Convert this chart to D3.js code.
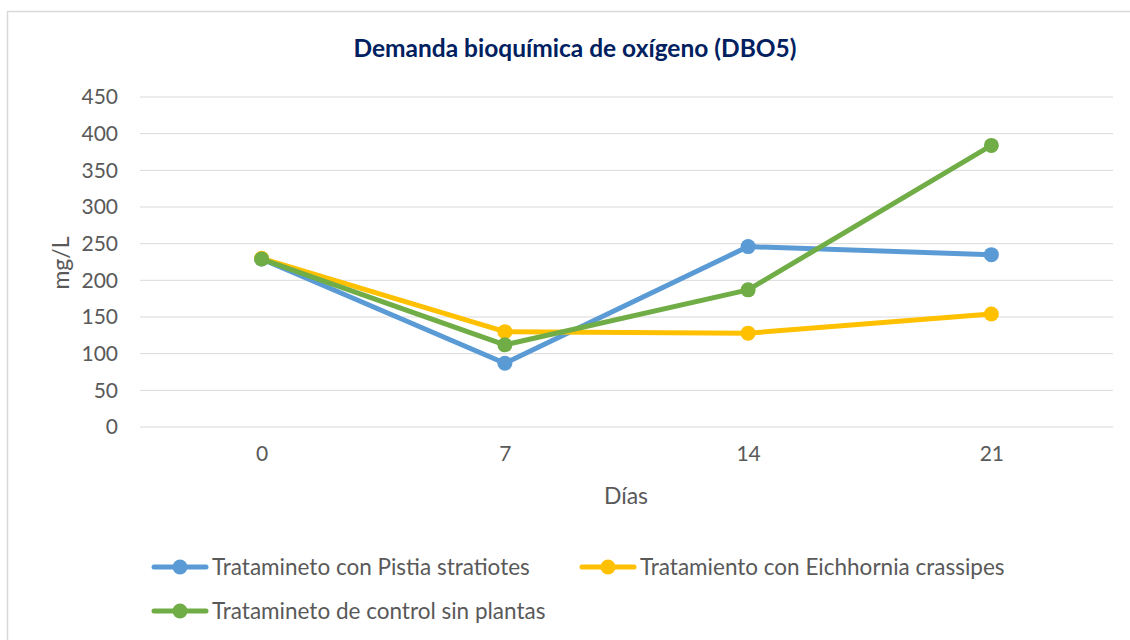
<!doctype html>
<meta charset='utf-8'>
<body style='margin:0;background:#fff'>
<script src='https://d3js.org/d3.v7.min.js'></script>
<script>

var days = ['0', '7', '14', '21'];
var seriesNames = ['Tratamineto con Pistia stratiotes', 'Tratamiento con Eichhornia crassipes', 'Tratamineto de control sin plantas'];
var pistia = [229, 87, 246, 235];
var eichhornia = [230, 130, 128, 154];
var control = [229, 112, 187, 384];
var yTicks = [0, 50, 100, 150, 200, 250, 300, 350, 400, 450];
var colors = ['#5B9BD5', '#FFC000', '#70AD47'];

var width = 1130, height = 640;
var font = 'Lato, Calibri, sans-serif';

var svg = d3.select('body').append('svg')
    .attr('width', width)
    .attr('height', height)
    .style('font-family', font);

// chart frame (Excel style border)
svg.append('path')
    .attr('d', 'M7.5,640 V11.5 H1130')
    .attr('fill', 'none')
    .attr('stroke', '#d9d9d9')
    .attr('stroke-width', 1.5);

var x = d3.scalePoint().domain(days).range([140, 1113]).padding(0.5);
var y = d3.scaleLinear().domain([0, 450]).range([427, 97]);

// gridlines
svg.append('g').selectAll('line')
    .data(yTicks)
    .enter().append('line')
    .attr('x1', 140).attr('x2', 1113)
    .attr('y1', d => y(d)).attr('y2', d => y(d))
    .attr('stroke', '#d9d9d9')
    .attr('stroke-width', 1);

// y axis labels
var yAxis = svg.append('g')
    .attr('transform', 'translate(118,0)')
    .call(d3.axisLeft(y).tickValues(yTicks).tickSize(0).tickPadding(0));
yAxis.select('.domain').remove();
yAxis.selectAll('text')
    .attr('fill', '#595959')
    .style('font-size', '21px')
    .style('font-family', font);

// x axis labels
var xAxis = svg.append('g')
    .attr('transform', 'translate(0,' + 446 + ')')
    .call(d3.axisBottom(x).tickSize(0).tickPadding(0));
xAxis.select('.domain').remove();
xAxis.selectAll('text')
    .attr('fill', '#595959')
    .style('font-size', '21px')
    .style('font-family', font);

// titles
svg.append('text')
    .attr('x', 575).attr('y', 57)
    .attr('text-anchor', 'middle')
    .attr('fill', '#002060')
    .style('font-size', '24.5px')
    .style('font-weight', 'bold')
    .text('Demanda bioquímica de oxígeno (DBO5)');

svg.append('text')
    .attr('x', 626).attr('y', 504)
    .attr('text-anchor', 'middle')
    .attr('fill', '#595959')
    .style('font-size', '23px')
    .text('Días');

svg.append('text')
    .attr('transform', 'translate(69,263) rotate(-90)')
    .attr('text-anchor', 'middle')
    .attr('fill', '#595959')
    .style('font-size', '23px')
    .text('mg/L');

var allSeries = [pistia, eichhornia, control];

var line = d3.line()
    .x((d, i) => x(days[i]))
    .y(d => y(d));

var groups = svg.append('g').selectAll('g')
    .data(allSeries)
    .enter().append('g');

groups.append('path')
    .attr('d', d => line(d))
    .attr('fill', 'none')
    .attr('stroke', (d, i) => colors[i])
    .attr('stroke-width', 5)
    .attr('stroke-linejoin', 'round');

groups.each(function(vals, si) {
  d3.select(this).selectAll('circle')
    .data(vals)
    .enter().append('circle')
    .attr('cx', (d, i) => x(days[i]))
    .attr('cy', d => y(d))
    .attr('r', 7.5)
    .attr('fill', colors[si]);
});

// legend
var legendPos = [[148, 567], [576, 567], [148, 611]];
var legend = svg.append('g').selectAll('g')
    .data(seriesNames)
    .enter().append('g')
    .attr('transform', (d, i) => 'translate(' + legendPos[i][0] + ',' + legendPos[i][1] + ')');

legend.append('line')
    .attr('x1', 6).attr('x2', 58)
    .attr('stroke', (d, i) => colors[i])
    .attr('stroke-width', 5)
    .attr('stroke-linecap', 'round');
legend.append('circle')
    .attr('cx', 32).attr('r', 7.5)
    .attr('fill', (d, i) => colors[i]);
legend.append('text')
    .attr('x', 64).attr('dy', '0.35em')
    .attr('fill', '#595959')
    .style('font-size', '22.5px')
    .text(d => d);

</script>
</body>
